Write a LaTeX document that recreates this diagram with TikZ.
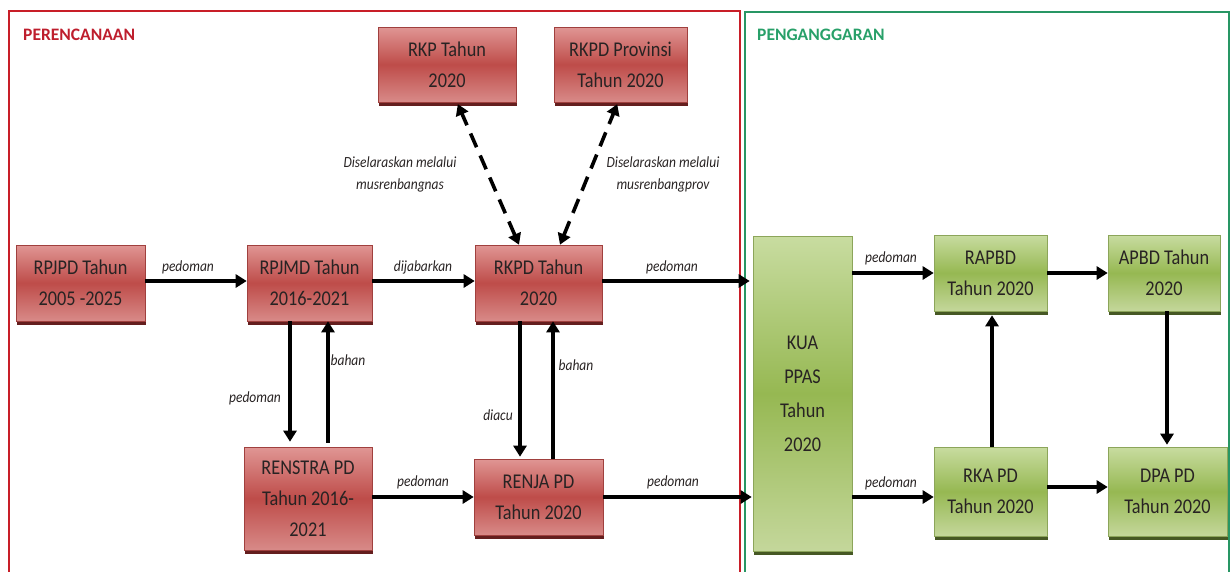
\documentclass[tikz,border=0pt]{standalone}
\usepackage{fontspec}
\setmainfont{Carlito}
\newfontfamily\boxfont[FakeStretch=0.87]{Carlito}
\usetikzlibrary{arrows.meta,shadows,calc}
\definecolor{redframe}{RGB}{200,30,40}
\definecolor{greenframe}{RGB}{40,150,100}
\definecolor{redtitle}{RGB}{190,30,45}
\definecolor{greentitle}{RGB}{40,160,105}
\definecolor{rtop}{RGB}{224,150,148}
\definecolor{rmid}{RGB}{190,76,73}
\definecolor{rbot}{RGB}{216,138,136}
\definecolor{rborder}{RGB}{160,64,62}
\definecolor{rshadow}{RGB}{100,30,30}
\definecolor{gtop}{RGB}{200,220,160}
\definecolor{gmid}{RGB}{150,184,82}
\definecolor{gbot}{RGB}{196,215,155}
\definecolor{gborder}{RGB}{140,165,90}
\definecolor{gshadow}{RGB}{70,88,36}
\definecolor{txt}{RGB}{40,35,35}
\tikzset{
  redbox/.style={rectangle, draw=rborder, line width=0.6pt, top color=rtop, bottom color=rbot, middle color=rmid,
    general shadow={fill=rshadow, shadow yshift=-4pt, shadow xshift=1pt},
    text=txt, align=center, inner sep=0pt, font=\boxfont\fontsize{21}{31}\selectfont},
  greenbox/.style={rectangle, draw=gborder, line width=0.6pt, top color=gtop, bottom color=gbot, middle color=gmid,
    general shadow={fill=gshadow, shadow yshift=-4pt, shadow xshift=1pt},
    text=txt, align=center, inner sep=0pt, font=\boxfont\fontsize{21}{31}\selectfont},
  arr/.style={line width=3.6pt, -{Triangle[length=11pt,width=13pt]}},
  darr/.style={line width=3.6pt, dash pattern=on 15pt off 9pt, {Triangle[length=11pt,width=13pt]}-{Triangle[length=11pt,width=13pt]}},
  lbl/.style={font=\boxfont\fontsize{15.5}{22}\selectfont\itshape, text=txt, align=center, inner sep=0pt},
  title/.style={font=\fontsize{17.5}{20}\selectfont\bfseries, inner sep=0pt, anchor=west}
}
\begin{document}
\begin{tikzpicture}[x=1pt,y=-1pt]
\useasboundingbox (0,0) rectangle (1230,571);
% frames
\draw[redframe, line width=2pt] (9,580) -- (9,11) -- (740,11) -- (740,580);
\draw[greenframe, line width=2pt] (745,580) -- (745,12) -- (1229,12) -- (1229,580);
\node[title, text=redtitle] (t1) at (23,35) {PERENCANAAN};
\node[title, text=greentitle] (t2) at (757,35) {PENGANGGARAN};
% helper coordinates
\coordinate (y281) at (0,281);
\coordinate (y497) at (0,497);
\coordinate (y273) at (0,273);
\coordinate (y487) at (0,487);
\coordinate (x290) at (290,0);
\coordinate (x328) at (328,0);
\coordinate (x520) at (520,0);
\coordinate (x553) at (553,0);
\coordinate (x992) at (992,0);
\coordinate (x1167) at (1167,0);
\coordinate (x457) at (457,0);
\coordinate (x519) at (519,0);
\coordinate (x560) at (560,0);
\coordinate (x618) at (618,0);
% red boxes
\node[redbox, minimum width=129pt, minimum height=76pt] (rpjpd) at (80.5,283) {RPJPD Tahun\\2005 -2025};
\node[redbox, minimum width=125pt, minimum height=76pt] (rpjmd) at (309.5,283) {RPJMD Tahun\\2016-2021};
\node[redbox, minimum width=127pt, minimum height=76pt] (rkpd) at (538.5,283) {RKPD Tahun\\2020};
\node[redbox, minimum width=138pt, minimum height=75pt] (rkp) at (447,64.5) {RKP Tahun\\2020};
\node[redbox, minimum width=133pt, minimum height=75pt] (rkpdprov) at (620.5,64.5) {RKPD Provinsi\\Tahun 2020};
\node[redbox, minimum width=128pt, minimum height=103pt] (renstra) at (308,498.5) {RENSTRA PD\\Tahun 2016-\\2021};
\node[redbox, minimum width=129pt, minimum height=76pt] (renja) at (538.5,497) {RENJA PD\\Tahun 2020};
% green boxes
\node[greenbox, minimum width=99pt, minimum height=315pt, font=\boxfont\fontsize{21}{34}\selectfont] (kua) at (802.5,393.5) {KUA\\PPAS\\Tahun\\2020};
\node[greenbox, minimum width=113pt, minimum height=76pt] (rapbd) at (990.5,273) {RAPBD\\Tahun 2020};
\node[greenbox, minimum width=112pt, minimum height=76pt] (apbd) at (1164,273) {APBD Tahun\\2020};
\node[greenbox, minimum width=113pt, minimum height=89pt] (rka) at (990.5,491.5) {RKA PD\\Tahun 2020};
\node[greenbox, minimum width=119pt, minimum height=89pt] (dpa) at (1167.5,491.5) {DPA PD\\Tahun 2020};
% horizontal arrows
\draw[arr] (rpjpd.east |- y281) -- (rpjmd.west |- y281);
\draw[arr] (rpjmd.east |- y281) -- (rkpd.west |- y281);
\draw[arr, shorten >=3pt] (rkpd.east |- y281) -- (kua.west |- y281);
\draw[arr] (renstra.east |- y497) -- (renja.west |- y497);
\draw[arr, shorten >=1pt] (renja.east |- y497) -- (kua.west |- y497);
\draw[arr] (kua.east |- y273) -- (rapbd.west |- y273);
\draw[arr] (kua.east |- y497) -- (rka.west |- y497);
\draw[arr] (rapbd.east |- y273) -- (apbd.west |- y273);
\draw[arr] (rka.east |- y487) -- (dpa.west |- y487);
% vertical arrows
\draw[arr, shorten >=5pt] (rpjmd.south -| x290) -- (renstra.north -| x290);
\draw[arr, shorten <=4pt] (renstra.north -| x328) -- (rpjmd.south -| x328);
\draw[arr, shorten >=2pt] (rkpd.south -| x520) -- (renja.north -| x520);
\draw[arr] (renja.north -| x553) -- (rkpd.south -| x553);
\draw[arr, shorten >=4pt] (rka.north -| x992) -- (rapbd.south -| x992);
\draw[arr, shorten >=2pt] (apbd.south -| x1167) -- (dpa.north -| x1167);
% dashed arrows
\draw[darr, shorten >=2pt] (rkpd.north -| x519) -- (rkp.south -| x457);
\draw[darr, shorten >=2pt] (rkpd.north -| x560) -- (rkpdprov.south -| x618);
% labels
\node[lbl] (l1) at (188,267) {pedoman};
\node[lbl] (l2) at (423,267) {dijabarkan};
\node[lbl] (l3) at (672,267) {pedoman};
\node[lbl] (l4) at (255,398) {pedoman};
\node[lbl] (l5) at (348,360) {bahan};
\node[lbl] (l6) at (498,415) {diacu};
\node[lbl] (l7) at (576,365) {bahan};
\node[lbl] (l8) at (423,482) {pedoman};
\node[lbl] (l9) at (673,482) {pedoman};
\node[lbl] (l10) at (891,258) {pedoman};
\node[lbl] (l11) at (891,483) {pedoman};
\node[lbl] (l12) at (400,174) {Diselaraskan melalui\\musrenbangnas};
\node[lbl] (l13) at (663,174) {Diselaraskan melalui\\musrenbangprov};
\end{tikzpicture}
\end{document}
